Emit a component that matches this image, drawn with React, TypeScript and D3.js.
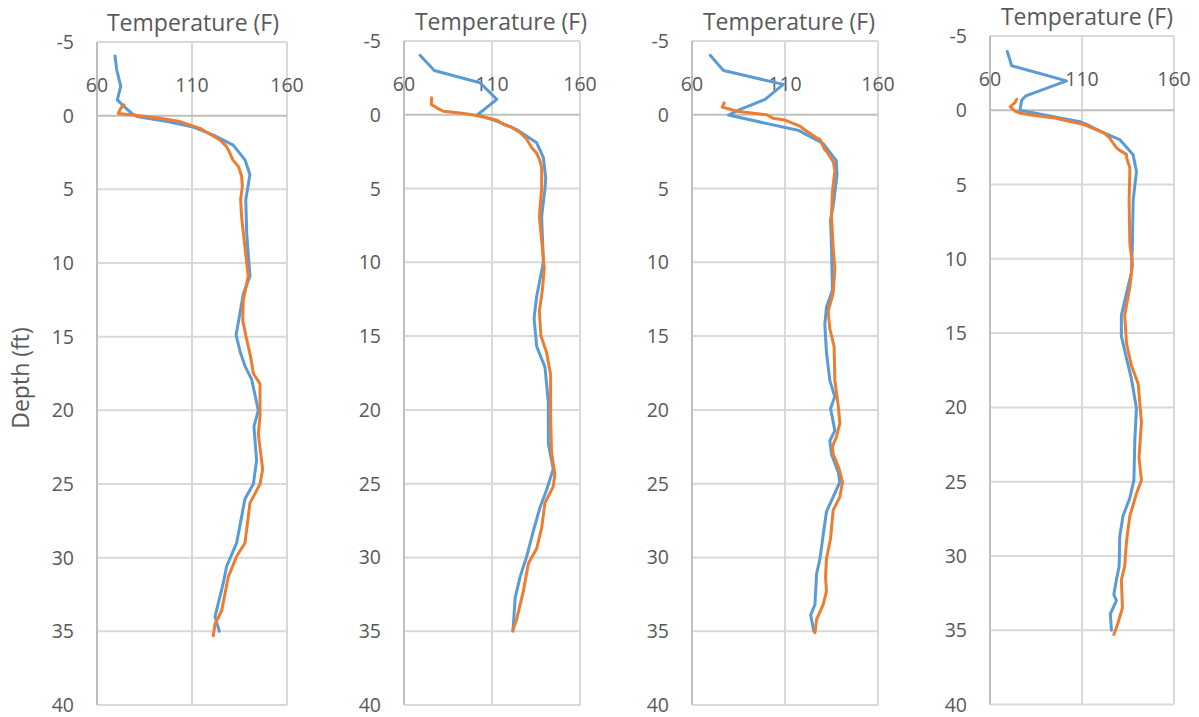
import React from "react";
import * as d3 from "d3";

// Axis ticks
const depthTicks = [-5, 0, 5, 10, 15, 20, 25, 30, 35, 40];
const tempTicks = [60, 110, 160];
const titleText = "Temperature (F)";
const yTitle = "Depth (ft)";

// Panel 1
const p1BlueDepth = [-4.05, -3.1, -2.0, -1.07, -0.7, -0.15, 0.05, 0.4, 0.75, 1.3, 2.0, 3.0, 4.0, 5.7, 8.0, 10.9, 12.1, 14.9, 16.0, 17.0, 17.9, 20.0, 21.1, 23.4, 25.0, 26.0, 29.0, 30.6, 31.7, 34.0, 35.0];
const p1BlueTemp = [69.5, 70.4, 72.5, 70.7, 73.6, 78.3, 81, 97, 110, 121, 131.7, 137.9, 140.5, 138.3, 138.8, 140.5, 137, 133.2, 135.3, 137.9, 141.4, 144.9, 142.6, 144, 142.3, 137.9, 133.5, 128.2, 126.5, 122.1, 124.4];
const p1OrangeDepth = [-0.73, -0.55, -0.4, -0.15, -0.05, 0.18, 0.4, 0.86, 1.3, 1.65, 2.1, 2.55, 3.0, 3.46, 4.1, 4.8, 5.7, 6.86, 8.5, 10.9, 12.5, 13.9, 15.2, 16.4, 17.5, 18.2, 20.4, 21.6, 24.0, 25.0, 26.3, 29.0, 29.9, 31.3, 33.6, 34.5, 35.3];
const p1OrangeTemp = [74.2, 72.8, 72.1, 71.2, 79, 93.2, 103.7, 114.2, 120, 124.7, 128.2, 130, 131.5, 134.5, 136.1, 136.5, 135.6, 136.1, 137.5, 139.6, 137, 136.7, 138.8, 140.9, 142.3, 145.8, 145.8, 144.9, 147.2, 145.8, 140.5, 137.9, 133.5, 129.1, 125.6, 122.1, 121.2];

// Panel 2
const p2BlueDepth = [-4.03, -3.0, -2.17, -1.72, -1.04, 0.0, 0.43, 1.0, 1.9, 2.9, 4.3, 5.0, 6.9, 10.0, 12.3, 13.8, 15.7, 17.1, 19.5, 22.3, 24.0, 25.4, 26.6, 28.2, 29.9, 31.3, 32.7, 35.0];
const p2BlueTemp = [69.1, 77.2, 103.2, 107, 112.7, 101.8, 112.7, 124, 135.4, 139.2, 140.5, 140.1, 138.2, 139.2, 135.4, 133.9, 135.4, 140.1, 142, 142, 144.8, 141.1, 137.3, 133.5, 129.8, 126, 123.2, 121.9];
const p2OrangeDepth = [-1.15, -0.7, -0.47, -0.24, -0.12, 0.0, 0.2, 0.36, 0.65, 0.83, 1.2, 1.66, 2.24, 2.6, 3.14, 3.56, 5.0, 6.9, 8.5, 10.4, 11.9, 13.3, 15.0, 16.1, 17.6, 20.4, 22.8, 24.4, 25.2, 26.3, 28.0, 29.4, 30.4, 32.3, 34.2, 34.9];
const p2OrangeTemp = [75.7, 75.5, 78.6, 82.3, 91.8, 99, 107, 112.7, 116.4, 121, 125.9, 129.7, 132.6, 135.4, 137.3, 138.2, 138.2, 136.9, 138.2, 139.7, 138.6, 136.9, 137.8, 141, 143.3, 143.3, 143.8, 145.7, 144.8, 140.1, 138.2, 135.4, 130.7, 127.8, 124, 121.9];

// Panel 3
const p3BlueDepth = [-4.03, -3.0, -2.06, -1.04, -0.37, 0.02, 1.07, 1.95, 3.1, 4.03, 6.17, 7.12, 9.0, 11.9, 13.05, 14.2, 16.1, 18.0, 19.1, 19.9, 21.4, 22.1, 23.0, 24.2, 24.9, 25.9, 26.9, 28.5, 30.1, 31.1, 33.2, 33.9, 35.0];
const p3BlueTemp = [69.8, 76.9, 109.1, 99.3, 85.9, 79.6, 117.5, 130.5, 137.5, 138, 135.9, 134.5, 135, 135.5, 132.3, 131.4, 132.3, 134.1, 136.8, 134.5, 136.8, 134.1, 135, 138.6, 139.5, 135.9, 132.3, 130.5, 128.8, 127, 126.1, 123.8, 125.5];
const p3OrangeDepth = [-0.81, -0.52, -0.37, -0.24, 0.0, 0.24, 0.36, 0.77, 0.95, 1.56, 1.66, 2.37, 2.46, 3.2, 3.8, 5.2, 6.9, 9.0, 10.4, 12.1, 13.3, 14.5, 15.7, 18.0, 19.7, 20.9, 21.8, 22.5, 23.0, 24.0, 24.9, 25.9, 26.8, 28.7, 30.1, 31.3, 32.3, 33.2, 34.2, 35.1];
const p3OrangeTemp = [77.3, 76.3, 80.5, 84.1, 100.2, 103.7, 110, 118, 119.8, 127, 128.8, 131.4, 132.3, 136, 136.8, 135.5, 135, 135.9, 136.8, 135.9, 133.2, 134.1, 136.4, 136.8, 138.6, 139.5, 137.7, 135.5, 135.9, 139.1, 140.9, 139.5, 135.9, 134.5, 132.3, 131.8, 132.3, 130.5, 127, 126.1];

// Panel 4
const p4BlueDepth = [-3.96, -3.0, -1.98, -0.97, -0.67, 0.0, 0.77, 0.95, 1.4, 1.97, 3.0, 4.12, 6.07, 8.97, 10.9, 12.3, 13.8, 15.2, 16.7, 18.1, 20.05, 22.2, 24.9, 26.1, 27.3, 28.7, 30.7, 31.6, 32.6, 33.0, 33.9, 35.0];
const p4BlueTemp = [69.4, 71.8, 101.6, 79.5, 77.2, 76.3, 108.8, 112.5, 119.7, 130.5, 137.8, 139.6, 137.8, 137.4, 136.9, 134.2, 131.4, 131.4, 134.2, 136.9, 139.6, 138.7, 138.2, 136, 132.3, 130.5, 130.2, 128.7, 127.3, 128.7, 125.4, 126];
const p4OrangeDepth = [-0.74, -0.51, -0.25, 0.05, 0.2, 0.34, 0.53, 0.61, 0.95, 1.4, 1.49, 1.85, 1.98, 2.53, 2.7, 2.97, 3.18, 3.88, 4.15, 6.1, 8.97, 10.4, 11.9, 13.8, 15.7, 17.2, 18.4, 21.0, 23.4, 24.9, 25.8, 27.3, 29.0, 30.7, 31.6, 33.5, 34.5, 35.3];
const p4OrangeTemp = [74.5, 73.6, 71, 73.6, 76.5, 83.5, 96.2, 98, 110.6, 119.7, 121.5, 125.1, 125.6, 128.8, 130.5, 134.2, 134.2, 136, 136, 135.6, 136, 137.4, 136, 133.2, 134.2, 136.9, 140.5, 142.3, 141, 142.3, 139.6, 136, 134.2, 133.2, 131.4, 132, 129.6, 127.3];

const blueColor = "#5B9BD5";
const orangeColor = "#ED7D31";
const textColor = "#595959";
const gridColor = "#D9D9D9";
const axisColor = "#BFBFBF";
const FONT = "'Open Sans', sans-serif";

const panelData = [
  { blue: [p1BlueDepth, p1BlueTemp], orange: [p1OrangeDepth, p1OrangeTemp] },
  { blue: [p2BlueDepth, p2BlueTemp], orange: [p2OrangeDepth, p2OrangeTemp] },
  { blue: [p3BlueDepth, p3BlueTemp], orange: [p3OrangeDepth, p3OrangeTemp] },
  { blue: [p4BlueDepth, p4BlueTemp], orange: [p4OrangeDepth, p4OrangeTemp] },
];

const layouts = [
  { left: 97, right: 287, top: 42, bottom: 705, titleX: 193 },
  { left: 404, right: 580, top: 41, bottom: 705, titleX: 501 },
  { left: 692, right: 878, top: 41, bottom: 705, titleX: 789 },
  { left: 990, right: 1174, top: 36, bottom: 704.5, titleX: 1087 },
];

function Panel({ idx }: { idx: number }) {
  const L = layouts[idx];
  const D = panelData[idx];
  const x = d3.scaleLinear().domain([60, 160]).range([L.left, L.right]);
  const y = d3.scaleLinear().domain([-5, 40]).range([L.top, L.bottom]);
  const mk = (depths: number[], temps: number[]) =>
    d3
      .line<number>()
      .x((_, i) => x(temps[i]))
      .y((d) => y(d))(depths) || "";
  const zeroY = y(0);
  return (
    <g>
      {depthTicks
        .filter((t) => t !== 0)
        .map((t) => (
          <line key={"h" + t} x1={L.left} x2={L.right} y1={y(t)} y2={y(t)} stroke={gridColor} strokeWidth={2} />
        ))}
      {tempTicks
        .filter((t) => t !== 60)
        .map((t) => (
          <line key={"v" + t} x1={x(t)} x2={x(t)} y1={L.top} y2={L.bottom} stroke={gridColor} strokeWidth={2} />
        ))}
      <line x1={L.left} x2={L.left} y1={L.top} y2={L.bottom} stroke={axisColor} strokeWidth={2} />
      <line x1={L.left} x2={L.right} y1={zeroY} y2={zeroY} stroke={axisColor} strokeWidth={2} />
      {depthTicks.map((t) => (
        <text key={"yl" + t} x={L.left - 23} y={y(t) + 7} textAnchor="end" fontSize={19.5} fill={textColor} fontFamily={FONT}>
          {t}
        </text>
      ))}
      {tempTicks.map((t) => (
        <text key={"xl" + t} x={x(t)} y={zeroY - 24} textAnchor="middle" fontSize={19.5} fill={textColor} fontFamily={FONT}>
          {t}
        </text>
      ))}
      <text x={L.titleX} y={L.top - 11} textAnchor="middle" fontSize={23} fill={textColor} fontFamily={FONT}>
        {titleText}
      </text>
      <path d={mk(D.blue[0], D.blue[1])} fill="none" stroke={blueColor} strokeWidth={3} strokeLinejoin="round" strokeLinecap="round" />
      <path d={mk(D.orange[0], D.orange[1])} fill="none" stroke={orangeColor} strokeWidth={3} strokeLinejoin="round" strokeLinecap="round" />
    </g>
  );
}

export default function App() {
  return (
    <svg
      width={1199}
      height={717}
      style={{ position: "absolute", left: 0, top: 0, background: "#fff" }}
    >
      <rect x={0} y={0} width={1199} height={717} fill="#fff" />
      {layouts.map((_, i) => (
        <Panel key={i} idx={i} />
      ))}
      <text
        transform="translate(29,378) rotate(-90)"
        textAnchor="middle"
        fontSize={23}
        fill={textColor}
        fontFamily={FONT}
      >
        {yTitle}
      </text>
    </svg>
  );
}
